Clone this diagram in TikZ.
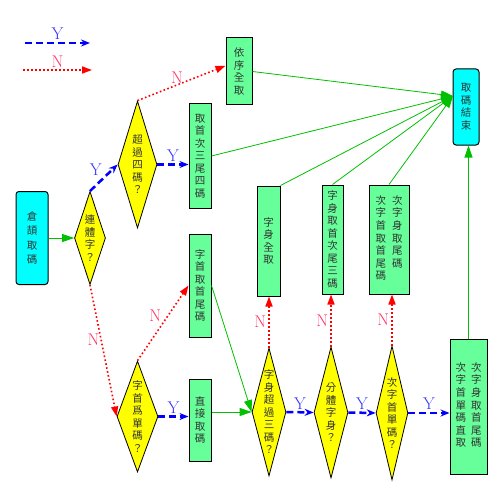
\documentclass[tikz,border=0pt]{standalone}
\usepackage{fontspec}
\newfontfamily\cjk{Noto Sans CJK TC}
\usetikzlibrary{shapes.geometric,arrows.meta}
\definecolor{boxgreen}{RGB}{102,255,153}
\definecolor{boxcyan}{RGB}{0,255,255}
\definecolor{boxyellow}{RGB}{255,255,0}
\definecolor{linegreen}{RGB}{0,192,0}
\definecolor{ycol}{RGB}{51,51,255}
\definecolor{ncol}{RGB}{255,51,102}
\begin{document}
\begin{tikzpicture}[x=1pt,y=-1pt,
    every node/.style={inner sep=0pt,align=center,text=black!80,
      font=\cjk\fontsize{10.5}{12.5}\selectfont},
    term/.style={draw,line width=1pt,fill=boxcyan,rounded corners=3pt},
    proc/.style={draw,line width=1pt,fill=boxgreen},
    test/.style={diamond,draw,line width=0.8pt,fill=boxyellow,shape aspect=0.3},
    yes/.style={blue,line width=2.5pt,dash pattern=on 7pt off 4pt,
      -{Stealth[length=9pt,width=7pt]}},
    no/.style={red,line width=1.6pt,dash pattern=on 1.6pt off 2.4pt,
      -{Triangle[length=10pt,width=7pt]}},
    go/.style={linegreen,line width=0.8pt,-{Triangle[length=12pt,width=8pt]}},
    ylab/.style={font=\fontsize{17}{17}\selectfont,inner sep=1pt,text=ycol},
    nlab/.style={font=\fontsize{17}{17}\selectfont,inner sep=1pt,text=ncol}]
  \useasboundingbox (0,0) rectangle (500,500);
  \coordinate (ya) at (25,43); \coordinate (yb) at (90,43);
  \coordinate (na) at (23,70); \coordinate (nb) at (92,70);
  \draw[yes] (ya) -- node[ylab,above=1pt]{Y} (yb);
  \draw[no] (na) -- node[nlab,above=1pt]{N} (nb);
  \node[term,minimum width=32,minimum height=93,font=\cjk\fontsize{10.5}{14.5}\selectfont]
    (start) at (32,238) {倉\\頡\\取\\碼};
  \node[term,minimum width=26,minimum height=76] (end) at (466,107) {取\\碼\\結\\束};
  \node[test,minimum width=31,minimum height=93] (d1) at (90,238) {連\\體\\字\\？};
  \node[test,minimum width=39,minimum height=127] (d2) at (137.5,164.5) {超\\過\\四\\碼\\？};
  \node[test,minimum width=41,minimum height=111] (d3) at (137.5,416.5) {字\\首\\爲\\單\\碼\\？};
  \node[test,shape aspect=0.25,minimum width=34,minimum height=128] (d4) at (269,412)
    {字\\身\\超\\過\\三\\碼\\？};
  \node[test,minimum width=34,minimum height=131] (d5) at (331,412.5) {分\\體\\字\\身\\？};
  \node[test,minimum width=30,minimum height=134] (d6) at (392,413) {次\\字\\首\\單\\碼\\？};
  \node[proc,minimum width=26,minimum height=67] (b1) at (239,71.5) {依\\序\\全\\取};
  \node[proc,minimum width=22,minimum height=104] (b2) at (200,156)
    {取\\首\\次\\三\\尾\\四\\碼};
  \node[proc,minimum width=22,minimum height=103] (b3) at (200,285.5) {字\\首\\取\\首\\尾\\碼};
  \node[proc,minimum width=22,minimum height=82] (b4) at (200,420) {直\\接\\取\\碼};
  \node[proc,minimum width=23,minimum height=110] (b5) at (268.5,241) {字\\身\\全\\取};
  \node[proc,minimum width=21,minimum height=109] (b6) at (332.5,239.5)
    {字\\身\\取\\首\\次\\尾\\三\\碼};
  \node[proc,minimum width=40,minimum height=109] (b7) at (389,239.5)
    {\begin{tabular}{@{}c@{\hspace{6pt}}c@{}}次&次\\字&字\\首&身\\取&取\\首&尾\\尾&碼\\碼&\end{tabular}};
  \node[proc,minimum width=37,minimum height=135] (b8) at (468.5,406.5)
    {\begin{tabular}{@{}c@{\hspace{5pt}}c@{}}次&次\\字&字\\首&身\\單&取\\碼&首\\直&尾\\取&碼\end{tabular}};
  \coordinate (endin) at (453,96);
  \draw[go] (start.east) -- (d1.west);
  \draw[yes] (d1.north) -- node[ylab,above left]{Y} (d2.west);
  \draw[no] (d2.north) -- node[nlab,pos=0.45,above]{N} (b1.157);
  \draw[yes] (d2.east) -- node[ylab,above=1pt]{Y} (d2.east-|b2.west);
  \draw[no] (d1.south) -- node[nlab,pos=0.42,left]{N} (d3.west);
  \draw[no] (d3.north) -- node[nlab,above left]{N} (b3.west);
  \draw[yes] (d3.east) -- node[ylab,above=1pt]{Y} (d3.east-|b4.west);
  \draw[go] (b4.east|-d4) -- (d4.west);
  \draw[go] (b3.east) -- (d4.west);
  \draw[yes] (d4.east) -- node[ylab,above=1pt]{Y} (d5.west);
  \draw[yes] (d5.east) -- node[ylab,above=1pt]{Y} (d6.west);
  \draw[yes] (d6.east) -- node[ylab,above=1pt]{Y} (d6.east-|b8.west);
  \draw[no] (d4.north) -- node[nlab,left=1pt]{N} (d4.north|-b5.south);
  \draw[no] (d5.north) -- node[nlab,left=1pt]{N} (d5.north|-b6.south);
  \draw[no] (d6.north) -- node[nlab,left=1pt]{N} (d6.north|-b7.south);
  \draw[go] (b1.east) -- (endin);
  \draw[go] (b2.east) -- (endin);
  \draw[go] (b5.north east) -- (endin);
  \draw[go] (b6.north) -- (endin);
  \draw[go] (b7.north) -- (endin);
  \draw[go] (b8.north) -- (b8.north|-end.south);
\end{tikzpicture}
\end{document}
